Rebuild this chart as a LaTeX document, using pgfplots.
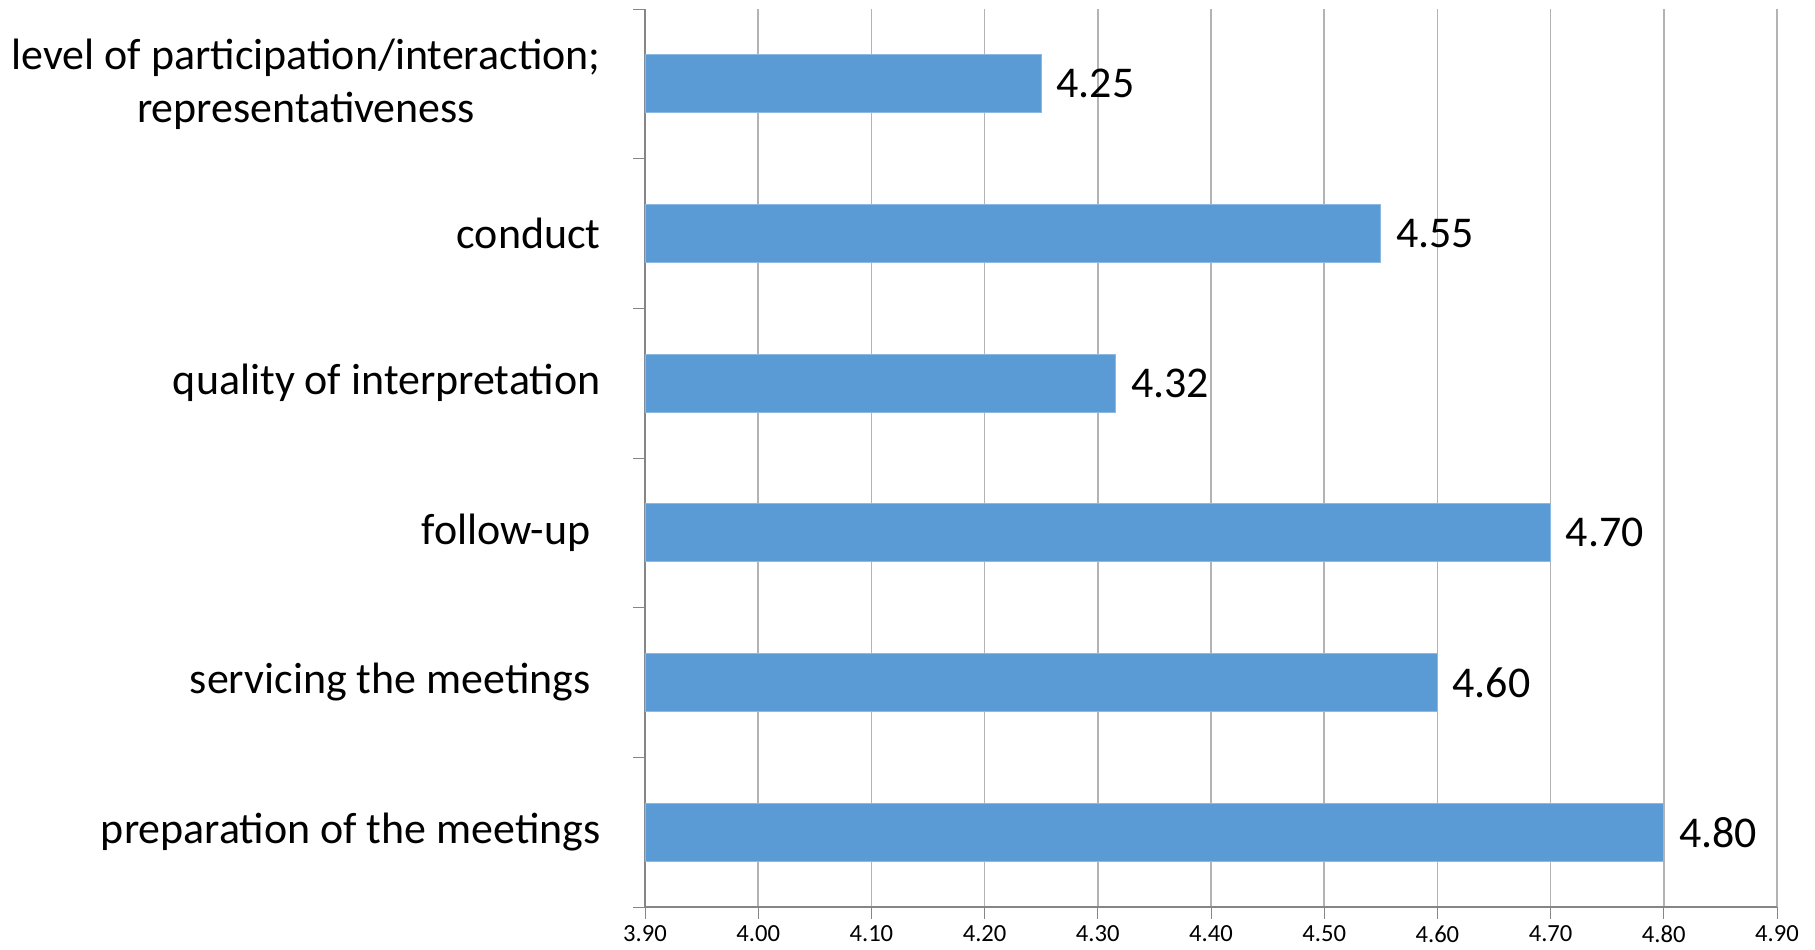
\documentclass[border=0pt]{standalone}
\usepackage{fontspec}
\setmainfont{Carlito}
\usepackage{pgfplots}
\pgfplotsset{compat=1.18}
\definecolor{barblue}{HTML}{5B9BD5}
\definecolor{axisgray}{HTML}{868686}
\definecolor{gridgray}{HTML}{B3B3B3}
\begin{document}
\begin{tikzpicture}
\begin{axis}[
    scale only axis,
    width=113.2mm, height=89.8mm,
    xmin=3.9, xmax=4.9,
    ymin=-0.5, ymax=5.5,
    axis x line*=bottom,
    axis y line*=left,
    axis line style={axisgray},
    xtick={3.9,4.0,...,4.91},
    xmajorgrids,
    grid style={gridgray, line width=0.5pt},
    xticklabel style={font=\fontsize{7}{8}\selectfont, yshift=0.6mm},
    /pgf/number format/assume math mode=true,
    xticklabel={\pgfmathprintnumber[fixed,zerofill,precision=2]{\tick}},
    tick align=outside,
    major tick length=1.2mm,
    minor tick length=1.2mm,
    every major x tick/.style={axisgray},
    ytick={0,...,5},
    yticklabels={preparation of the meetings,
                 servicing the meetings\hspace{1mm},
                 follow-up\hspace{1mm},
                 quality of interpretation,
                 conduct,
                 {level of participation/interaction;\\representativeness}},
    every major y tick/.style={draw=none},
    minor ytick={-0.5,0.5,...,5.6},
    every minor y tick/.style={axisgray},
    yticklabel style={align=center, font=\fontsize{12.5}{15.1}\selectfont, xshift=-2.0mm},
]
\addplot[xbar, bar width=5.8mm, fill=barblue, draw=barblue!70!white, line width=0.3pt,
    point meta=x,
    nodes near coords={\pgfmathprintnumber[fixed,zerofill,precision=2]{\pgfplotspointmeta}},
    every node near coord/.append style={font=\fontsize{12.5}{15}\selectfont, black, xshift=0.3mm},
    ] coordinates {
    (4.80,0)
    (4.60,1)
    (4.70,2)
    (4.316,3)
    (4.55,4)
    (4.25,5)
};
\end{axis}
\pgfresetboundingbox
\path ([shift={(-64.5mm,-4.2mm)}]current axis.south west) rectangle ([shift={(3.8mm,0.9mm)}]current axis.north east);
\end{tikzpicture}
\end{document}
